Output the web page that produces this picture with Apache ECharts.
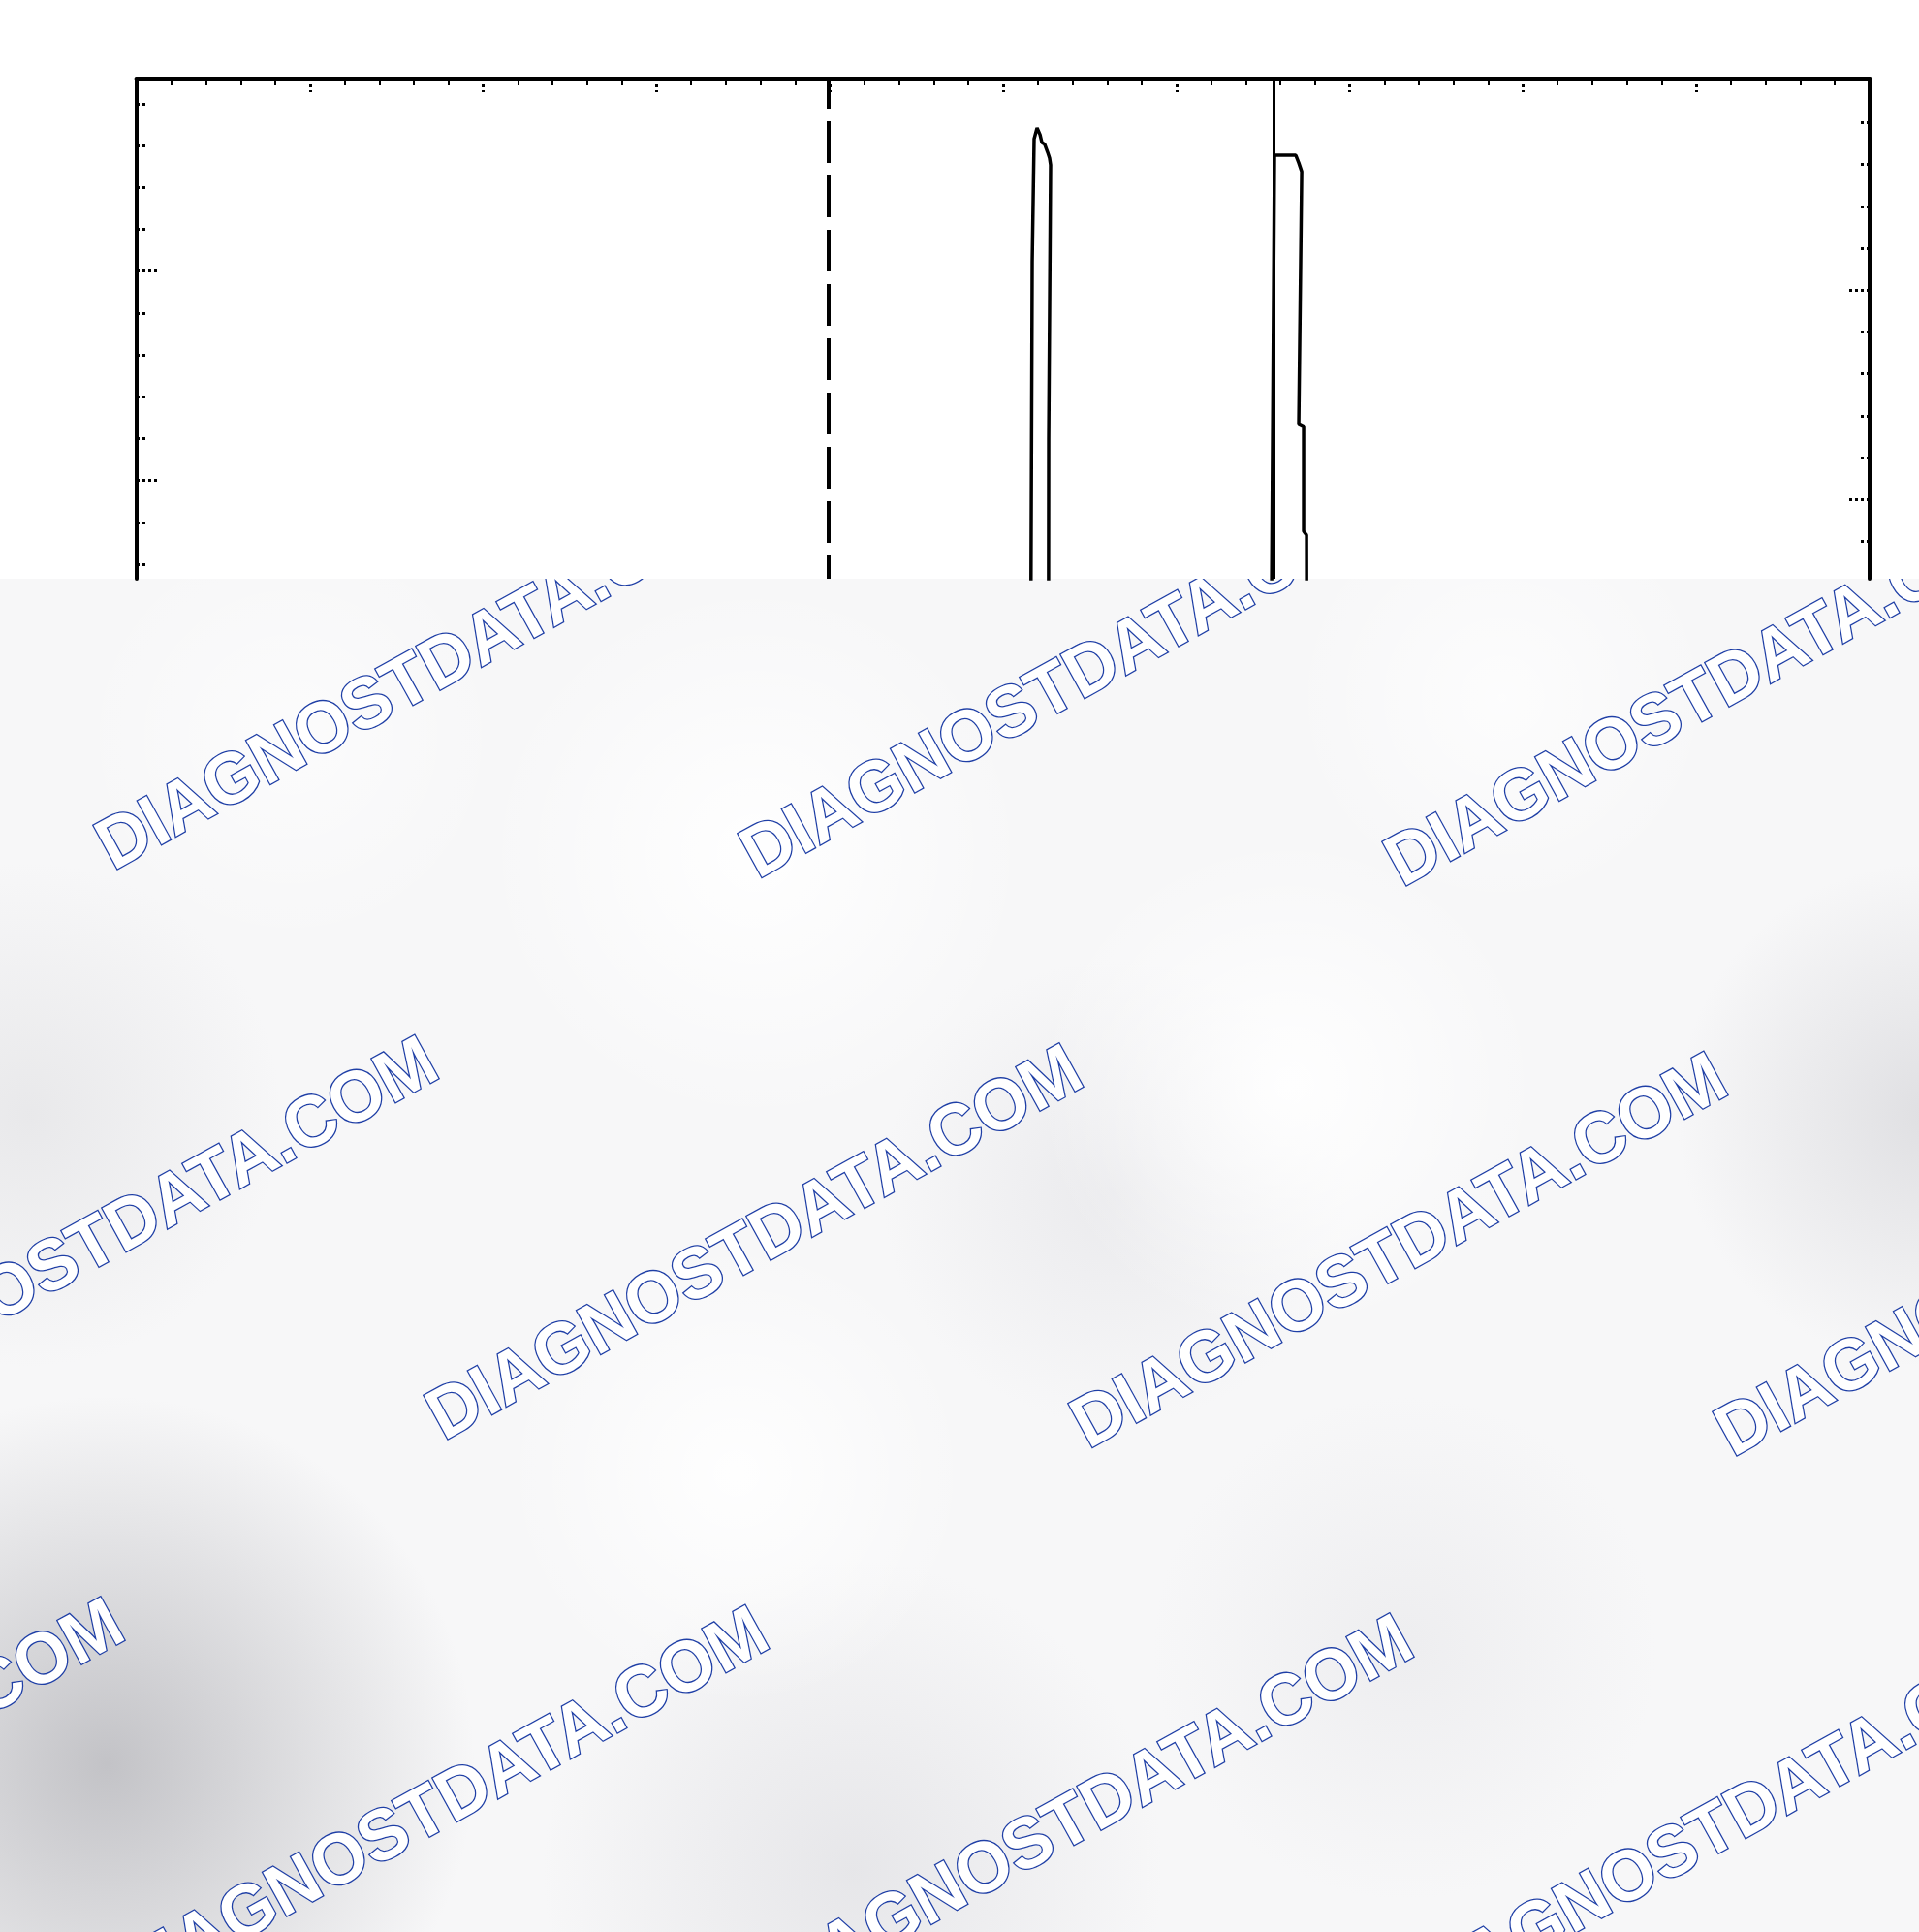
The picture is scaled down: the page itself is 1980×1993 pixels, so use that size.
<!DOCTYPE html>
<html>
<head>
<meta charset="utf-8">
<script src="https://cdn.jsdelivr.net/npm/echarts@6/dist/echarts.min.js"></script>
<style>
html,body{margin:0;padding:0;background:#fff;}
#chart{width:1980px;height:1993px;}
</style>
</head>
<body>
<div id="chart"></div>
<script>
// ---- data (x in screen divisions 0..10, y in left-axis units) ----
const pulse1X = [5.160, 5.168, 5.179, 5.196, 5.213, 5.224, 5.240, 5.257, 5.268, 5.274, 5.263, 5.262];
const pulse1Y = [31.5, 40.23, 43.16, 43.42, 43.26, 43.07, 43.03, 42.84, 42.70, 42.54, 36.0, 31.5];
const pulse2X = [6.548, 6.566, 6.689, 6.706, 6.723, 6.717, 6.706, 6.734, 6.734, 6.751, 6.752];
const pulse2Y = [31.5, 42.77, 42.77, 42.59, 42.38, 40.23, 36.36, 36.30, 33.79, 33.70, 31.5];
const dashedMarkerX = 3.99;
const solidMarkerX = 6.56;
const leftMajorTicks = [35, 40];
const leftMinorTicks = [33, 34, 36, 37, 38, 39, 41, 42, 43, 44];
const rightMajorTicks = [35, 40];
const rightMinorTicks = [34, 36, 37, 38, 39, 41, 42, 43, 44];
const watermarkText = 'DIAGNOSTDATA.COM';

// ---- layout / style ----
const GRID_TOP = 81, GRID_LEFT = 141, GRID_RIGHT = 51, COVER_Y = 597;
const PX_PER_UNIT = 43.2;
const gridH = COVER_Y - GRID_TOP;
const leftMax = 44.6, leftMin = leftMax - gridH / PX_PER_UNIT;
const rightMax = 45.05, rightMin = rightMax - gridH / PX_PER_UNIT;

const tickStyle = {color: '#000', width: 3, type: [3, 3]};

function yAxisDef(pos, min, max, ticks, len, showLine) {
  return {
    type: 'value', position: pos, min: min, max: max, zlevel: 1,
    axisLine: {show: showLine, lineStyle: {color: '#000', width: 4}},
    axisTick: {show: true, inside: true, length: len, customValues: ticks, lineStyle: tickStyle},
    axisLabel: {show: false}, splitLine: {show: false}
  };
}

const series1 = pulse1X.map((x, i) => [x, pulse1Y[i]]);
const series2 = pulse2X.map((x, i) => [x, pulse2Y[i]]);

// watermark layer
const graphics = [];
graphics.push({type: 'rect', zlevel: 0, z: 0, shape: {x: 0, y: COVER_Y, width: 1980, height: 1993 - COVER_Y},
  style: {fill: '#f7f7f8'}});
const blobs = [
  [110, 1820, 380, 'rgba(160,160,166,0.6)'],
  [30, 1150, 260, 'rgba(215,215,218,0.45)'],
  [1150, 1230, 240, 'rgba(215,215,220,0.4)'],
  [1990, 1150, 260, 'rgba(200,200,205,0.5)'],
  [880, 1930, 320, 'rgba(210,210,215,0.45)'],
  [1450, 1700, 260, 'rgba(220,220,224,0.35)'],
  [780, 880, 280, 'rgba(255,255,255,0.95)'],
  [1330, 1120, 260, 'rgba(255,255,255,0.9)'],
  [760, 1520, 240, 'rgba(255,255,255,0.9)'],
  [1550, 720, 220, 'rgba(255,255,255,0.7)'],
  [300, 760, 220, 'rgba(255,255,255,0.6)']
];
blobs.forEach(b => {
  const c0 = b[3];
  const c1 = c0.replace(/[\d.]+\)$/, '0)');
  graphics.push({type: 'circle', zlevel: 0, z: 1, shape: {cx: b[0], cy: b[1], r: b[2]},
    style: {fill: {type: 'radial', x: 0.5, y: 0.5, r: 0.5, colorStops: [{offset: 0, color: c0}, {offset: 1, color: c1}]}}});
});
const ANG = 29 * Math.PI / 180;
for (let r = -1; r <= 2; r++) {
  for (let k = -2; k <= 3; k++) {
    const x = 125 + r * 341 + k * 665;
    const y = 913 + r * 588 + k * 8.5;
    graphics.push({type: 'text', zlevel: 0, z: 2, x: x, y: y, rotation: ANG, scaleX: 0.975,
      style: {text: watermarkText, font: 'bold 74px "Liberation Sans", Arial, sans-serif',
        fill: '#ffffff', stroke: '#1f3fa6', lineWidth: 2.6, align: 'left', verticalAlign: 'bottom'}});
  }
}
graphics.push({type: 'rect', zlevel: 0, z: 10, shape: {x: 0, y: 0, width: 1980, height: COVER_Y},
  style: {fill: '#ffffff'}});

const chart = echarts.init(document.getElementById('chart'), null, {renderer: 'canvas'});
chart.setOption({
  backgroundColor: '#ffffff',
  animation: false,
  grid: {left: GRID_LEFT, right: GRID_RIGHT, top: GRID_TOP, height: gridH, show: false},
  xAxis: [{
    type: 'value', position: 'top', min: 0, max: 10, interval: 1, zlevel: 1,
    axisLine: {onZero: false, lineStyle: {color: '#000', width: 5}},
    axisTick: {inside: true, length: 14, lineStyle: tickStyle},
    minorTick: {show: true, splitNumber: 5, length: 7, lineStyle: {color: '#000', width: 2}},
    axisLabel: {show: false}, splitLine: {show: false}, minorSplitLine: {show: false}
  }],
  yAxis: [
    yAxisDef('left', leftMin, leftMax, leftMajorTicks, 22, true),
    yAxisDef('left', leftMin, leftMax, leftMinorTicks, 12, false),
    yAxisDef('right', rightMin, rightMax, rightMajorTicks, 22, true),
    yAxisDef('right', rightMin, rightMax, rightMinorTicks, 11, false)
  ],
  graphic: {elements: graphics},
  series: [
    {type: 'line', zlevel: 1, z: 5, xAxisIndex: 0, yAxisIndex: 0, data: series1, showSymbol: false, clip: true,
      lineStyle: {color: '#000', width: 3.5}, silent: true,
      markLine: {zlevel: 1, z: 5, silent: true, symbol: 'none', label: {show: false},
        data: [
          {xAxis: dashedMarkerX, lineStyle: {color: '#000', width: 4, type: [43, 13], dashOffset: 19}},
          {xAxis: solidMarkerX, lineStyle: {color: '#000', width: 3, type: 'solid'}}
        ]}},
    {type: 'line', zlevel: 1, z: 5, xAxisIndex: 0, yAxisIndex: 0, data: series2, showSymbol: false, clip: true,
      lineStyle: {color: '#000', width: 3.5}, silent: true}
  ]
});
</script>
</body>
</html>
